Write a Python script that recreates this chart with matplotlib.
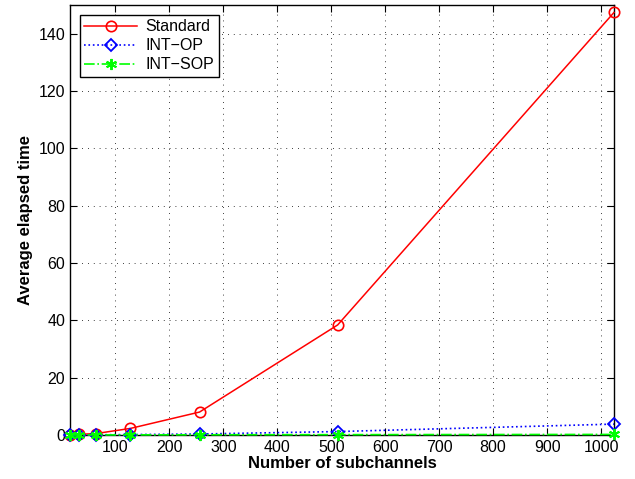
import matplotlib
matplotlib.use("Agg")
import matplotlib.pyplot as plt

x = [16, 32, 64, 128, 256, 512, 1024]
standard = [0.1, 0.2, 0.5, 2.3, 8.0, 38.4, 147.4]
int_op = [0.02, 0.04, 0.08, 0.15, 0.35, 1.2, 3.8]
int_sop = [0.01, 0.02, 0.03, 0.05, 0.08, 0.12, 0.2]

plt.rcParams['font.family'] = ['Liberation Sans', 'DejaVu Sans']
fig = plt.figure(figsize=(6.35, 4.79), dpi=100)
ax = fig.add_axes([70/635, 1-435/479, (614-70)/635, (435-5)/479])

ax.plot(x, standard, '-', color='red', marker='o', markersize=7.5, markerfacecolor='none',
        markeredgewidth=1.2, lw=1.1, label='Standard', clip_on=False, zorder=3)
ax.plot(x, int_op, ':', color='blue', marker='D', markersize=6.5, markerfacecolor='none',
        markeredgewidth=1.3, lw=1.2, label='INT\u2212OP', clip_on=False, zorder=4)
ax.plot(x, int_sop, '-.', color='#00ff00', marker=(6, 2, 0), markersize=8,
        markeredgewidth=1.4, lw=1.2, label='INT\u2212SOP', clip_on=False, zorder=5)

ax.set_xlim(16, 1024)
ax.set_ylim(0, 150)
ax.set_xticks(range(100, 1001, 100))
ax.set_yticks(range(0, 141, 20))
ax.grid(True, linestyle=(0, (1, 6)), color='black', lw=0.6)
ax.tick_params(direction='in', labelsize=11.5, length=5, top=True, right=True, width=0.8)
for s in ax.spines.values():
    s.set_linewidth(1.0)
ax.set_xlabel('Number of subchannels', fontsize=12, fontweight='bold', labelpad=1)
ax.set_ylabel('Average elapsed time', fontsize=12, fontweight='bold', labelpad=4)

leg = ax.legend(loc='upper left', fontsize=11.5, fancybox=False, framealpha=1,
                edgecolor='black', borderaxespad=0.6, handlelength=3.3,
                borderpad=0.3, labelspacing=0.25, handletextpad=0.5)
leg.get_frame().set_linewidth(1.0)

fig.savefig('out.png', dpi=100)
